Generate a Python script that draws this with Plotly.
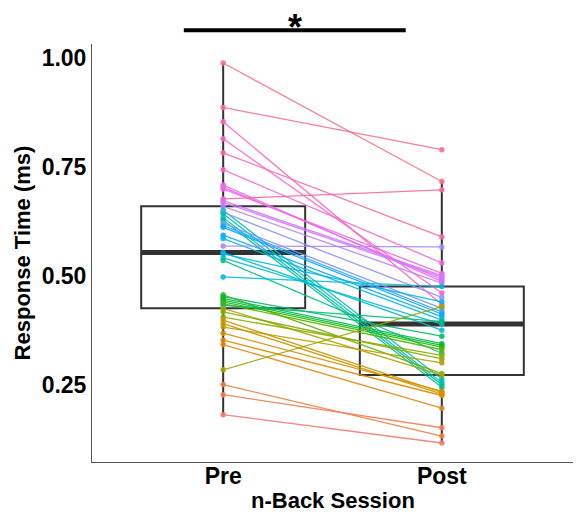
import numpy as np
import plotly.graph_objects as go

# n-Back response times per participant, before and after training
sessions = ["Pre", "Post"]
pre_rt = [
    0.988, 0.886, 0.853, 0.814, 0.782, 0.743, 0.708, 0.703, 0.699, 0.676,
    0.672, 0.668, 0.659, 0.650, 0.645, 0.642, 0.633, 0.627, 0.620, 0.615,
    0.611, 0.593, 0.585, 0.568, 0.553, 0.550, 0.541, 0.535, 0.497, 0.456,
    0.452, 0.448, 0.444, 0.440, 0.436, 0.432, 0.425, 0.417, 0.405, 0.398,
    0.390, 0.382, 0.368, 0.352, 0.342, 0.284, 0.250, 0.227, 0.181,
]
post_rt = [
    0.716, 0.789, 0.434, 0.460, 0.589, 0.529, 0.487, 0.492, 0.505, 0.697,
    0.500, 0.497, 0.483, 0.263, 0.450, 0.255, 0.250, 0.244, 0.425, 0.417,
    0.412, 0.406, 0.398, 0.566, 0.375, 0.440, 0.389, 0.322, 0.475, 0.275,
    0.361, 0.344, 0.340, 0.336, 0.330, 0.395, 0.272, 0.309, 0.317, 0.232,
    0.228, 0.300, 0.235, 0.225, 0.196, 0.429, 0.132, 0.151, 0.116,
]
y_ticks = [0.25, 0.50, 0.75, 1.00]
sig_label = "*"
x_title = "n-Back Session"
y_title = "Response Time (ms)"

FONT = "Liberation Sans"
BOX_COLOR = "#333333"


def hcl_hex(h, c=100.0, l=65.0):
    """Polar CIE-Luv (HCL) colour to an sRGB hex string."""
    hr = np.deg2rad(h)
    u, v = c * np.cos(hr), c * np.sin(hr)
    xn, yn, zn = 95.047, 100.0, 108.883
    den = xn + 15 * yn + 3 * zn
    un, vn = 4 * xn / den, 9 * yn / den
    Y = yn * ((l + 16) / 116) ** 3 if l > 8 else yn * l / 903.3
    up, vp = u / (13 * l) + un, v / (13 * l) + vn
    X = 9 * Y * up / (4 * vp)
    Z = Y * (12 - 3 * up - 20 * vp) / (4 * vp)
    X, Y, Z = X / 100, Y / 100, Z / 100
    rgb = (
        3.240479 * X - 1.537150 * Y - 0.498535 * Z,
        -0.969256 * X + 1.875992 * Y + 0.041556 * Z,
        0.055648 * X - 0.204043 * Y + 1.057311 * Z,
    )

    def gam(t):
        t = min(max(t, 0.0), 1.0)
        return 12.92 * t if t <= 0.0031308 else 1.055 * t ** (1 / 2.4) - 0.055

    return "#%02x%02x%02x" % tuple(int(round(255 * gam(t))) for t in rgb)


pre = np.array(pre_rt)
post = np.array(post_rt)
n = len(pre)

# participants coloured by the rank of their mean response time
hues = np.linspace(15, 375, n + 1)[:-1]
order = np.argsort((pre + post) / 2)
colors = [None] * n
for rank, idx in enumerate(order):
    colors[idx] = hcl_hex(hues[rank])


def box_stats(vals):
    q1, med, q3 = np.percentile(vals, [25, 50, 75])
    iqr = q3 - q1
    lo = vals[vals >= q1 - 1.5 * iqr].min()
    hi = vals[vals <= q3 + 1.5 * iqr].max()
    return q1, med, q3, lo, hi


stats = [box_stats(pre), box_stats(post)]
xpos = [1, 2]
box_w = 0.75

fig = go.Figure()
fig.add_trace(go.Box(
    x=xpos,
    q1=[s[0] for s in stats],
    median=[s[1] for s in stats],
    q3=[s[2] for s in stats],
    lowerfence=[s[3] for s in stats],
    upperfence=[s[4] for s in stats],
    width=box_w,
    whiskerwidth=0,
    boxpoints=False,
    fillcolor="rgba(0,0,0,0)",
    line=dict(color=BOX_COLOR, width=2),
    hoverinfo="skip",
    showlegend=False,
))
for xp, s in zip(xpos, stats):
    fig.add_trace(go.Scatter(
        x=[xp - box_w / 2, xp + box_w / 2], y=[s[1], s[1]],
        mode="lines", line=dict(color=BOX_COLOR, width=5),
        hoverinfo="skip", showlegend=False,
    ))

for i in range(n):
    fig.add_trace(go.Scatter(
        x=xpos, y=[pre[i], post[i]],
        mode="lines+markers",
        line=dict(color=colors[i], width=1.3),
        marker=dict(color=colors[i], size=5.5),
        opacity=0.9,
        showlegend=False,
    ))

allv = np.concatenate([pre, post])
span = allv.max() - allv.min()
yr = [allv.min() - 0.05 * span, allv.max() + 0.05 * span]

# significance bracket above the panel
fig.add_shape(type="line", xref="x", yref="paper",
              x0=0.82, x1=1.835, y0=1.033, y1=1.033,
              line=dict(color="black", width=4))
fig.add_annotation(x=1.33, y=1.094, xref="x", yref="paper",
                   text=sig_label, showarrow=False, yanchor="top",
                   font=dict(family=FONT, size=36, color="black", weight="bold"))

tick_font = dict(family=FONT, size=23, color="black", weight="bold")
title_font = dict(family=FONT, size=22, color="black", weight="bold")

# x-axis title placed under the session labels
fig.add_annotation(x=0.5, y=-0.091, xref="paper", yref="paper",
                   text=x_title, showarrow=False, yanchor="middle",
                   font=title_font)

fig.update_layout(
    width=579, height=512,
    margin=dict(l=92, r=6, t=44, b=50),
    paper_bgcolor="white", plot_bgcolor="white",
    xaxis=dict(
        range=[0.4, 2.6], tickvals=xpos, ticktext=sessions,
        showline=True, linecolor="#555555", linewidth=1,
        showgrid=False, zeroline=False, ticks="", automargin=False,
        ticklabelstandoff=-7,
        tickfont=tick_font,
    ),
    yaxis=dict(
        range=yr, tickvals=y_ticks, tickformat=".2f",
        showline=True, linecolor="#555555", linewidth=1,
        showgrid=False, zeroline=False, ticks="", automargin=False,
        tickfont=tick_font,
        title=dict(text=y_title, font=title_font, standoff=4),
    ),
)

fig.write_html("out.html")
